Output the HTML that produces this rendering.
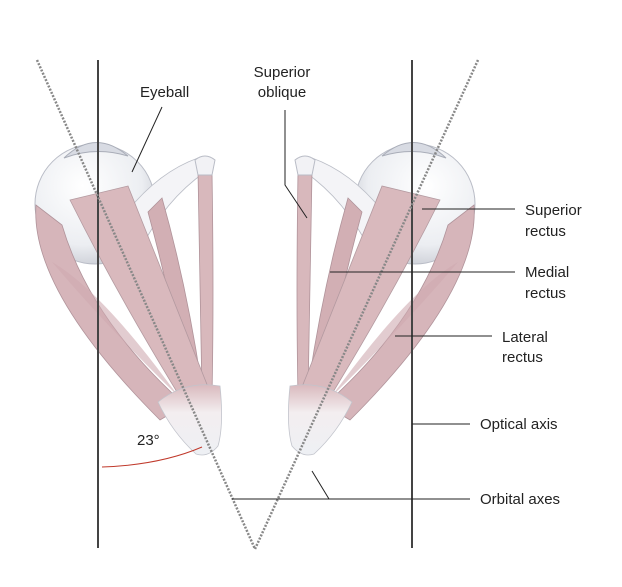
<!DOCTYPE html>
<html><head><meta charset="utf-8"><style>
html,body{margin:0;padding:0;background:#fff;}
svg{display:block;font-family:"Liberation Sans",sans-serif;}
text{font-size:15px;fill:#222;}
</style></head><body>
<svg width="622" height="587" viewBox="0 0 622 587" xmlns="http://www.w3.org/2000/svg">
<defs>
<radialGradient id="ball" cx="0.4" cy="0.35" r="0.7">
<stop offset="0" stop-color="#ffffff"/><stop offset="0.7" stop-color="#eceef2"/><stop offset="1" stop-color="#c9ccd4"/>
</radialGradient>
<linearGradient id="tip" x1="0" y1="0" x2="0" y2="1">
<stop offset="0" stop-color="#d9b9bd"/><stop offset="0.4" stop-color="#f3eef0"/><stop offset="1" stop-color="#eef0f4"/>
</linearGradient>
<g id="side">
  <circle cx="95" cy="204" r="60" fill="url(#ball)" stroke="#b9bcc6" stroke-width="1"/>
  <path d="M64,158 Q95,128 128,156 Q95,146 64,158Z" fill="#d8dbe3" stroke="#a9adb8"/>
  <path d="M36,205 Q30,290 160,420 L185,405 Q90,320 62,225 Z" fill="#d6b5ba" stroke="#b0939a" stroke-width="0.8"/>
  <path d="M52,262 Q100,290 170,385 L180,398 Q110,330 52,262Z" fill="#cfaab0" opacity="0.6"/>
  <path d="M112,232 Q150,175 198,158 L205,172 Q165,200 140,250 Z" fill="#f4f4f7" stroke="#bbbec7" stroke-width="0.8"/>
  <path d="M148,212 Q172,300 190,400 L203,395 Q188,290 162,198 Z" fill="#d2afb4" stroke="#b0939a" stroke-width="0.8"/>
  <path d="M198,172 L212,172 Q214,300 212,395 L202,395 Q200,300 198,172Z" fill="#d8b8bc" stroke="#b0939a" stroke-width="0.8"/>
  <path d="M195,160 Q205,152 215,160 L212,175 L198,175Z" fill="#f2f2f5" stroke="#b9bcc6"/>
  <path d="M70,200 L128,186 Q165,280 210,392 L188,410 Q120,300 70,200Z" fill="#d9b9bd" stroke="#b39aa0" stroke-width="0.8"/>
  <path d="M158,402 Q185,380 220,386 Q224,425 218,446 Q208,458 196,454 Q172,432 158,402Z" fill="url(#tip)" stroke="#c2c4cc" stroke-width="0.8"/>
</g>
</defs>
<use href="#side"/>
<use href="#side" transform="translate(510,0) scale(-1,1)"/>
<line x1="98" y1="60" x2="98" y2="548" stroke="#444" stroke-width="2"/>
<line x1="412" y1="60" x2="412" y2="548" stroke="#444" stroke-width="2"/>
<line x1="37" y1="60" x2="255" y2="549" stroke="#888" stroke-width="2.5" stroke-dasharray="2,1.5"/>
<line x1="478" y1="60" x2="255" y2="549" stroke="#888" stroke-width="2.5" stroke-dasharray="2,1.5"/>
<path d="M102,467 Q160,465 202,447" fill="none" stroke="#c0392b" stroke-width="1"/>
<text x="137" y="445">23°</text>
<g stroke="#222" stroke-width="1" fill="none">
<line x1="162" y1="107" x2="132" y2="172"/>
<polyline points="285,110 285,185 307,218"/>
<line x1="422" y1="209" x2="515" y2="209"/>
<line x1="330" y1="272" x2="515" y2="272"/>
<line x1="395" y1="336" x2="492" y2="336"/>
<line x1="412" y1="424" x2="470" y2="424"/>
<line x1="232" y1="499" x2="470" y2="499"/>
<line x1="312" y1="471" x2="329" y2="499"/>
</g>
<text x="140" y="97">Eyeball</text>
<text x="282" y="77" text-anchor="middle">Superior</text>
<text x="282" y="97" text-anchor="middle">oblique</text>
<text x="525" y="215">Superior</text>
<text x="525" y="236">rectus</text>
<text x="525" y="277">Medial</text>
<text x="525" y="298">rectus</text>
<text x="502" y="342">Lateral</text>
<text x="502" y="362">rectus</text>
<text x="480" y="429">Optical axis</text>
<text x="480" y="504">Orbital axes</text>
</svg>
</body></html>
